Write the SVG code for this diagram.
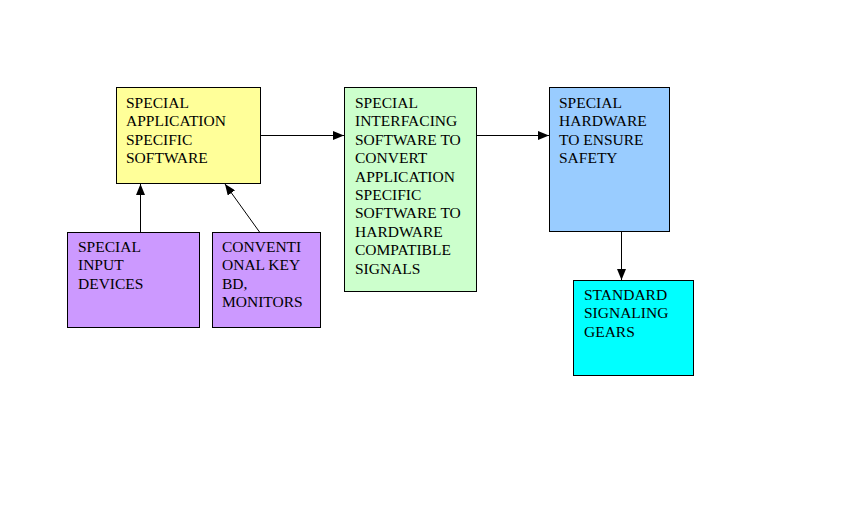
<svg xmlns="http://www.w3.org/2000/svg" width="848" height="509" viewBox="0 0 848 509">
<defs>
<marker id="ah" viewBox="0 0 11 9" refX="11" refY="4.5" markerWidth="11" markerHeight="9" markerUnits="userSpaceOnUse" orient="auto">
<path d="M0,0 L11,4.5 L0,9 Z" fill="#000"/>
</marker>
<style>
.box{stroke:#000;stroke-width:1}
.t{font-family:"Liberation Serif","Times New Roman",serif;font-size:15.5px;fill:#000}
.c{stroke:#000;stroke-width:1;fill:none;marker-end:url(#ah)}
</style>
</defs>
<rect width="848" height="509" fill="#fff"/>
<g id="n-app">
<rect class="box" x="116.5" y="87.5" width="144" height="96" fill="#ffff99"/>
<text class="t" x="126" y="108">SPECIAL</text>
<text class="t" x="126" y="126.4">APPLICATION</text>
<text class="t" x="126" y="144.8">SPECIFIC</text>
<text class="t" x="126" y="163.2">SOFTWARE</text>
</g>
<g id="n-input">
<rect class="box" x="67.5" y="232.5" width="132" height="95" fill="#cc99ff"/>
<text class="t" x="78" y="252">SPECIAL</text>
<text class="t" x="78" y="270.4">INPUT</text>
<text class="t" x="78" y="288.8">DEVICES</text>
</g>
<g id="n-conv">
<rect class="box" x="212.5" y="232.5" width="108" height="95" fill="#cc99ff"/>
<text class="t" x="222" y="252">CONVENTI</text>
<text class="t" x="222" y="270.4">ONAL KEY</text>
<text class="t" x="222" y="288.8">BD,</text>
<text class="t" x="222" y="307.2">MONITORS</text>
</g>
<g id="n-iface">
<rect class="box" x="344.5" y="87.5" width="132" height="204" fill="#ccffcc"/>
<text class="t" x="355" y="108">SPECIAL</text>
<text class="t" x="355" y="126.4">INTERFACING</text>
<text class="t" x="355" y="144.8">SOFTWARE TO</text>
<text class="t" x="355" y="163.2">CONVERT</text>
<text class="t" x="355" y="181.6">APPLICATION</text>
<text class="t" x="355" y="200">SPECIFIC</text>
<text class="t" x="355" y="218.4">SOFTWARE TO</text>
<text class="t" x="355" y="236.8">HARDWARE</text>
<text class="t" x="355" y="255.2">COMPATIBLE</text>
<text class="t" x="355" y="273.6">SIGNALS</text>
</g>
<g id="n-hw">
<rect class="box" x="549.5" y="87.5" width="120" height="144" fill="#99ccff"/>
<text class="t" x="559" y="108">SPECIAL</text>
<text class="t" x="559" y="126.4">HARDWARE</text>
<text class="t" x="559" y="144.8">TO ENSURE</text>
<text class="t" x="559" y="163.2">SAFETY</text>
</g>
<g id="n-gear">
<rect class="box" x="573.5" y="280.5" width="120" height="95" fill="#00ffff"/>
<text class="t" x="584" y="300">STANDARD</text>
<text class="t" x="584" y="318.4">SIGNALING</text>
<text class="t" x="584" y="336.8">GEARS</text>
</g>
<g id="connectors">
<line class="c" x1="260.5" y1="135.5" x2="344" y2="135.5"/>
<line class="c" x1="476.5" y1="135.5" x2="549" y2="135.5"/>
<line class="c" x1="140.5" y1="232" x2="140.5" y2="184"/>
<line class="c" x1="259.5" y1="232" x2="225" y2="184"/>
<line class="c" x1="621.5" y1="232" x2="621.5" y2="280"/>
</g>
</svg>
